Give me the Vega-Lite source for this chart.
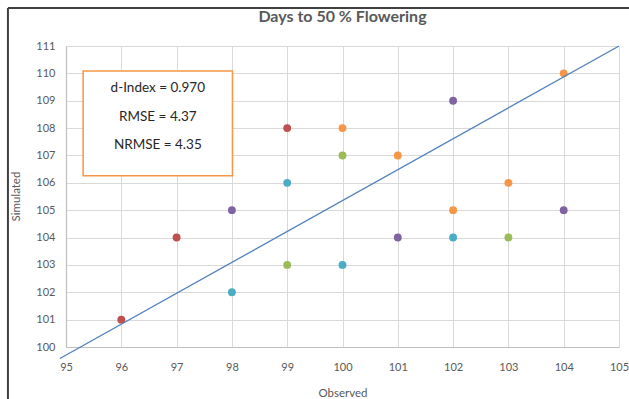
{
  "$schema": "https://vega.github.io/schema/vega-lite/v6.json",
  "width": 553,
  "height": 301,
  "autosize": "none",
  "padding": {"left": 66, "top": 46, "right": 10, "bottom": 52},
  "title": {"text": "Days to 50 % Flowering", "font": "Lato", "fontSize": 16, "fontWeight": "bold", "color": "#595959", "offset": -18, "anchor": "middle", "frame": "group"},
  "config": {
    "font": "Lato",
    "view": {"stroke": null},
    "axis": {"labelFont": "Lato", "titleFont": "Lato", "labelColor": "#595959", "titleColor": "#595959", "labelFontSize": 11, "titleFontSize": 11.5, "titleFontWeight": "normal", "gridColor": "#d9d9d9", "gridWidth": 1, "ticks": false, "domainColor": "#bfbfbf", "domainWidth": 1.2, "labelFlush": false, "labelOverlap": false}
  },
  "encoding": {
    "x": {"field": "observed", "type": "quantitative", "scale": {"domain": [95, 105], "nice": false, "zero": false},
          "axis": {"values": [95,96,97,98,99,100,101,102,103,104,105], "title": "Observed", "labelPadding": 14, "titleY": 40, "titleBaseline": "top", "grid": true}},
    "y": {"field": "simulated", "type": "quantitative", "scale": {"domain": [100, 111], "nice": false, "zero": false},
          "axis": {"values": [100,101,102,103,104,105,106,107,108,109,110,111], "title": "Simulated", "labelPadding": 11, "titleX": -50, "titleY": 150, "titleBaseline": "middle", "grid": true}}
  },
  "layer": [
    {
      "data": {"values": [
        {"observed": 93.95, "observed_end": 93.95, "simulated": 112.39, "simulated_end": 97.4},
        {"observed": 93.95, "observed_end": 105.3, "simulated": 112.39, "simulated_end": 112.39}
      ]},
      "mark": {"type": "rule", "color": "#404040", "strokeWidth": 2, "clip": false},
      "encoding": {
        "x2": {"field": "observed_end"},
        "y2": {"field": "simulated_end"}
      }
    },
    {
      "data": {"values": [
        {"series": "Series 1", "observed": 96, "simulated": 101},
        {"series": "Series 1", "observed": 97, "simulated": 104},
        {"series": "Series 1", "observed": 99, "simulated": 108},
        {"series": "Series 2", "observed": 99, "simulated": 103},
        {"series": "Series 2", "observed": 100, "simulated": 107},
        {"series": "Series 2", "observed": 103, "simulated": 104},
        {"series": "Series 3", "observed": 98, "simulated": 105},
        {"series": "Series 3", "observed": 101, "simulated": 104},
        {"series": "Series 3", "observed": 102, "simulated": 109},
        {"series": "Series 3", "observed": 104, "simulated": 105},
        {"series": "Series 4", "observed": 98, "simulated": 102},
        {"series": "Series 4", "observed": 99, "simulated": 106},
        {"series": "Series 4", "observed": 100, "simulated": 103},
        {"series": "Series 4", "observed": 102, "simulated": 104},
        {"series": "Series 5", "observed": 100, "simulated": 108},
        {"series": "Series 5", "observed": 101, "simulated": 107},
        {"series": "Series 5", "observed": 102, "simulated": 105},
        {"series": "Series 5", "observed": 103, "simulated": 106},
        {"series": "Series 5", "observed": 104, "simulated": 110}
      ]},
      "mark": {"type": "point", "filled": true, "opacity": 1, "size": 62},
      "encoding": {
        "color": {"field": "series", "type": "nominal", "legend": null,
                  "scale": {"domain": ["Series 1", "Series 2", "Series 3", "Series 4", "Series 5"], "range": ["#C0504D", "#9BBB59", "#8064A2", "#4BACC6", "#F79646"]}}
      }
    },
    {
      "data": {"values": [
        {"observed": 94.89, "simulated": 99.58},
        {"observed": 105, "simulated": 111}
      ]},
      "mark": {"type": "line", "color": "#4F81BD", "strokeWidth": 1.3, "clip": false},
      "encoding": {}
    },
    {
      "data": {"values": [
        {"observed": 95.31, "observed_end": 98.01, "simulated": 110.09, "simulated_end": 106.26}
      ]},
      "mark": {"type": "rect", "fill": "white", "stroke": "#F79646", "strokeWidth": 1.5},
      "encoding": {
        "x2": {"field": "observed_end"},
        "y2": {"field": "simulated_end"}
      }
    },
    {
      "data": {"values": [
        {"label": "d-Index = 0.970", "observed": 96.66, "simulated": 109.47},
        {"label": "RMSE = 4.37", "observed": 96.66, "simulated": 108.42},
        {"label": "NRMSE = 4.35", "observed": 96.66, "simulated": 107.37}
      ]},
      "mark": {"type": "text", "font": "Lato", "fontSize": 13.5, "color": "#262626", "align": "center", "baseline": "middle"},
      "encoding": {
        "text": {"field": "label"}
      }
    }
  ]
}
